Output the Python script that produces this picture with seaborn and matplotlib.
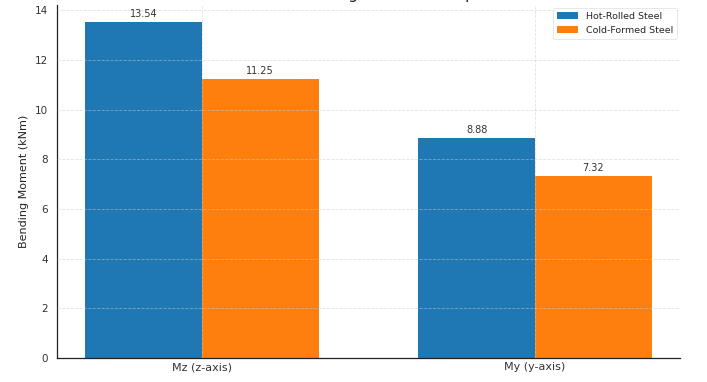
import pandas as pd
import numpy as np
import matplotlib
matplotlib.use('Agg')
import matplotlib.pyplot as plt
import seaborn as sns

moments = ['Mz (z-axis)', 'My (y-axis)']
steel_types = ['Hot-Rolled Steel', 'Cold-Formed Steel']
hot_rolled = [13.54, 8.88]
cold_formed = [11.25, 7.32]
title = 'Maximum Bending Moment Comparison'

df = pd.DataFrame({
    'Moment': moments * 2,
    'Steel': [steel_types[0]] * 2 + [steel_types[1]] * 2,
    'Value': hot_rolled + cold_formed,
})

sns.set_style('white')
plt.rcParams['font.family'] = ['DejaVu Sans']

fig = plt.figure(figsize=(7.07, 3.82), dpi=100)
ax = fig.add_axes([57 / 707, 24 / 382, 623 / 707, 353 / 382])

sns.barplot(data=df, x='Moment', y='Value', hue='Steel', hue_order=steel_types,
            palette=['#1f77b4', '#ff7f0e'], width=0.7, saturation=1,
            errorbar=None, ax=ax, edgecolor='none', linewidth=0)

for cont in ax.containers:
    ax.bar_label(cont, fmt='%.2f', padding=2, fontsize=7, color='#333333')

ax.set_xlim(-0.435, 1.435)
ax.set_ylim(0, 14.217)
ax.set_xlabel('')
ax.set_ylabel('Bending Moment (kNm)', fontsize=8, color='#222222')
ax.tick_params(axis='both', labelsize=7.5, colors='#333333', length=3, width=0.8)
ax.tick_params(axis='x', length=0, pad=3, labelsize=8)

# grid sits on top of the bars, faint
ax.grid(True, linestyle='--', color='#cccccc', linewidth=0.6, alpha=0.55)
ax.set_axisbelow(False)
sns.despine(ax=ax)
for s in ['left', 'bottom']:
    ax.spines[s].set_color('#222222')
    ax.spines[s].set_linewidth(0.9)

leg = ax.legend(loc='upper right', fontsize=6.8, frameon=True, title=None,
                handlelength=2.2, borderpad=0.45, borderaxespad=0.3)
leg.get_frame().set_edgecolor('#dddddd')
leg.get_frame().set_linewidth(0.6)

fig.text(0.5212, 1.0 + 1.5 / 382, title, ha='center', va='baseline', fontsize=11,
         color='#222222')

fig.savefig('out.png', dpi=100)
